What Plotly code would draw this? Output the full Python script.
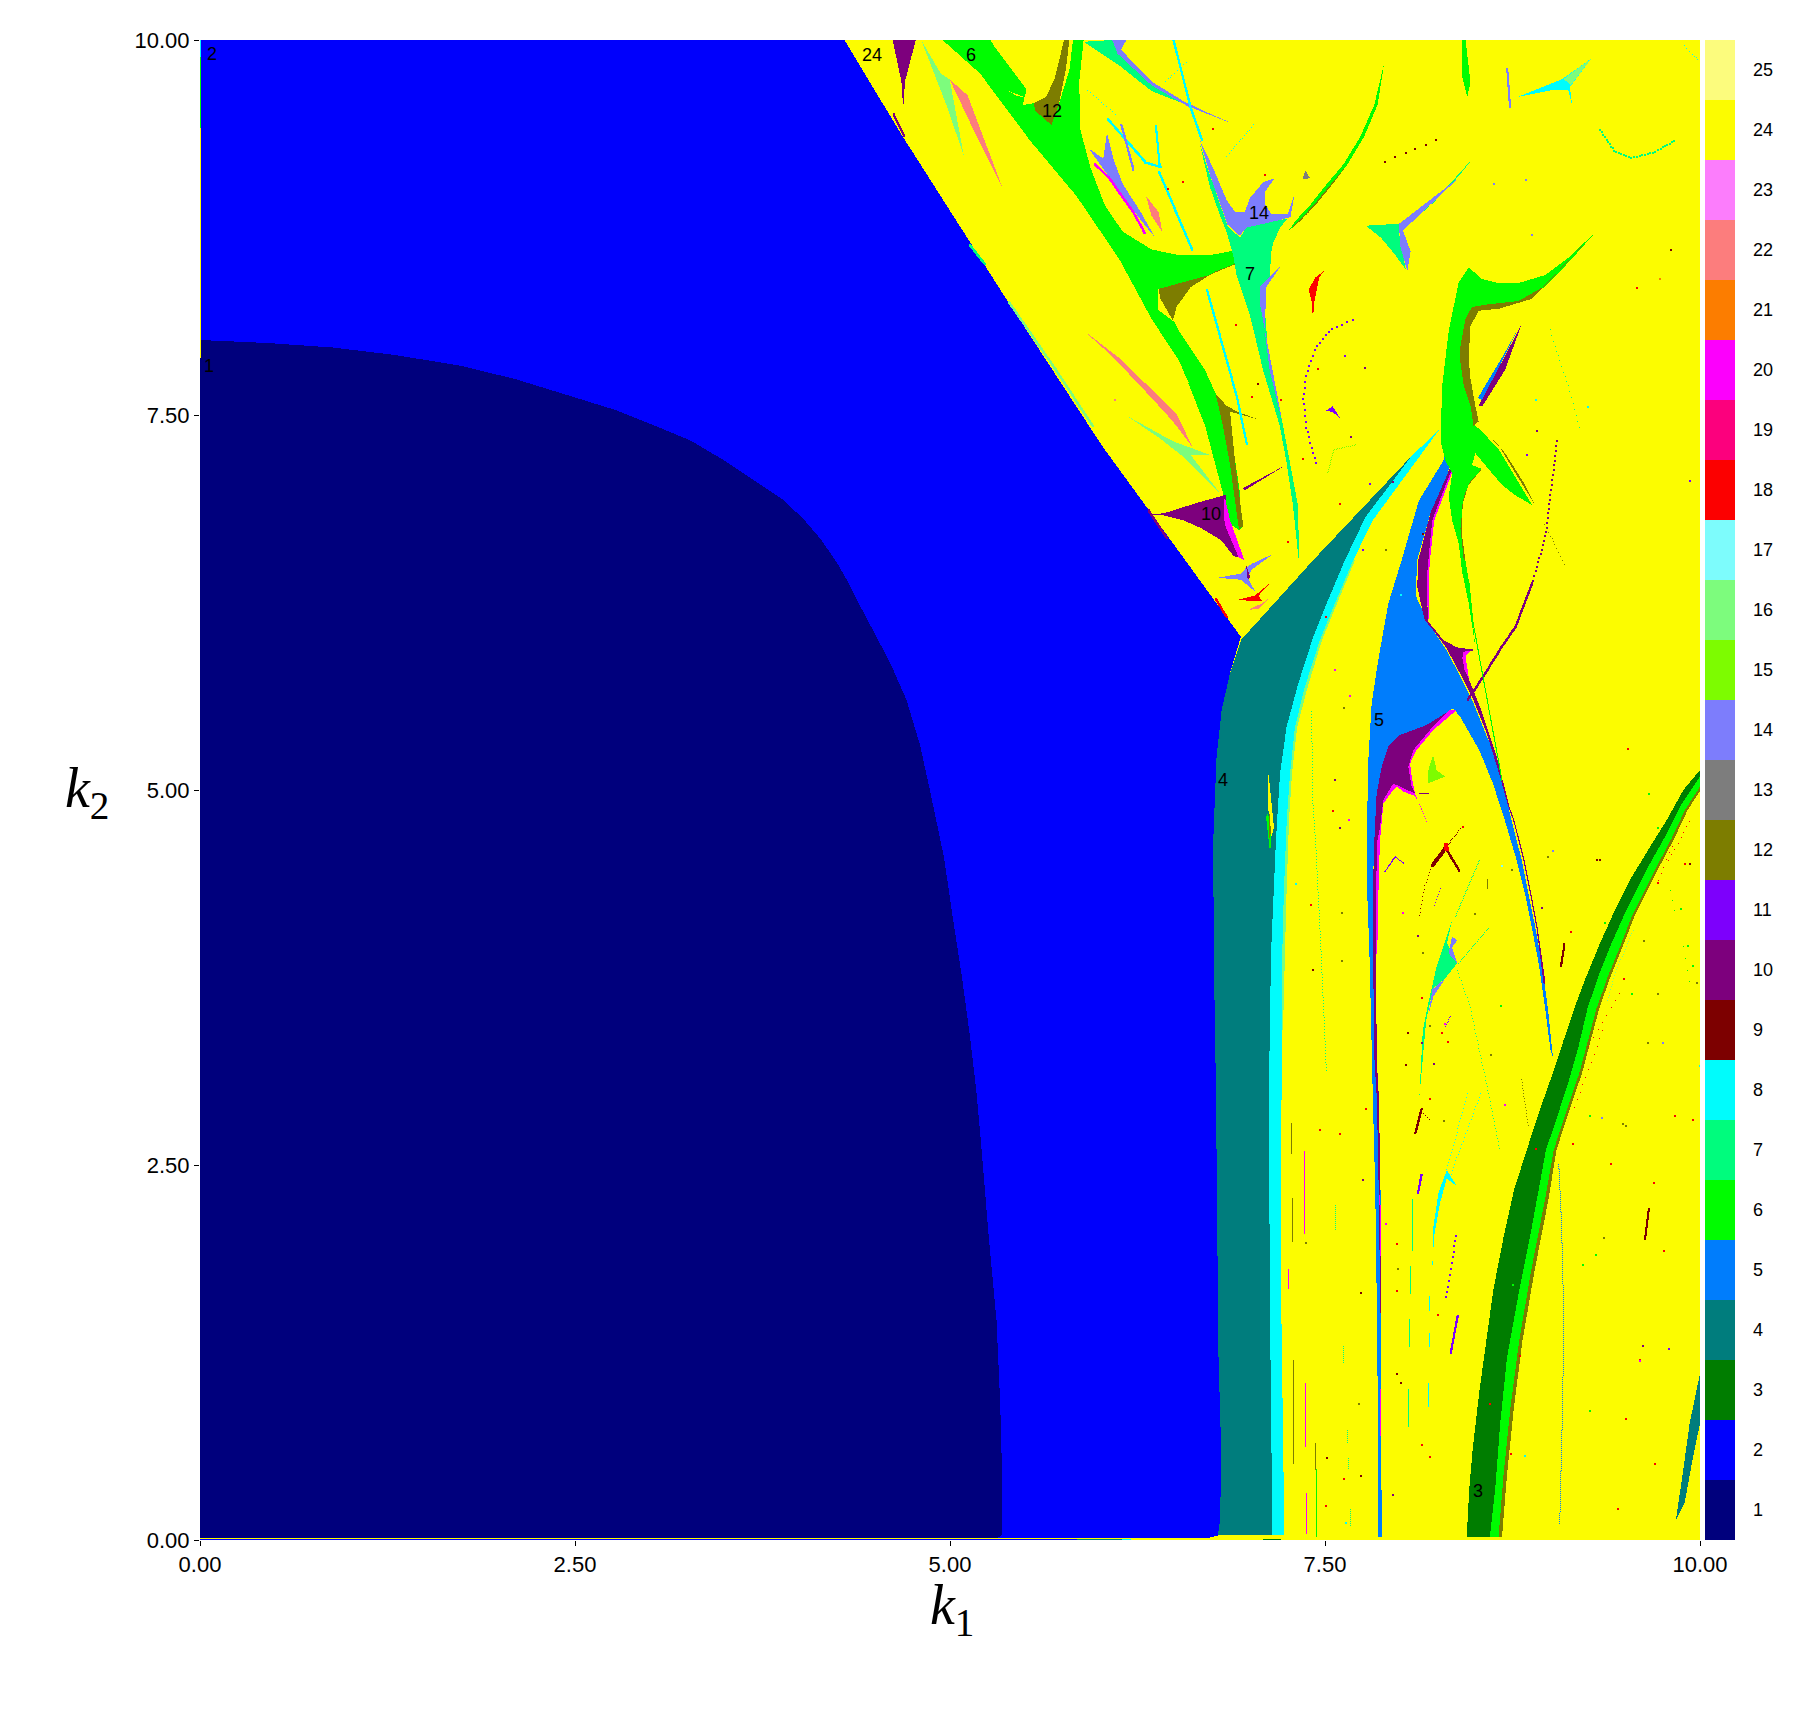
import numpy as np
import plotly.graph_objects as go

# ---- period legend -------------------------------------------------------
periods = list(range(1, 26))
period_colors = ["#00007D", "#0000FC", "#007D00", "#007D7D", "#007DFC", "#00FC00", "#00FC7D", "#00FCFC",
                 "#7D0000", "#7D007D", "#7D00FC", "#7D7D00", "#7D7D7D", "#7D7DFC", "#7DFC00", "#7DFC7D",
                 "#7DFCFC", "#FC0000", "#FC007D", "#FC00FC", "#FC7D00", "#FC7D7D", "#FC7DFC", "#FCFC00", "#FCFC7D"]
axis_ticks = [0, 2.5, 5, 7.5, 10]

# ---- region outlines, as (k1, k2) -----------------------------------------
blue_main = [(0,10),(4.296,10),(4.676,9.37),(5.39,8.25),(6.01,7.30),(6.94,6.02),(6.933,6.0),(6.866,5.777),(6.811,5.533),(6.777,5.222),
             (6.755,4.667),(6.756,4.355),(6.763,3.62),(6.774,2.93),(6.779,2.33),(6.79,1.22),(6.809,.556),(6.8,.133),(6.786,.03),(6.72,.0134),(0,.0134)]
navy_main = [(0,8.0),(.45,7.98),(.886,7.95),(1.3,7.9),(1.73,7.83),(2.1,7.74),(2.49,7.62),(2.78,7.53),(3.03,7.43),(3.27,7.33),(3.49,7.2),(3.7,7.06),(3.88,6.94),(4.02,6.81),(4.14,6.67),(4.25,6.51),(4.33,6.37),
             (4.41,6.21),(4.6,5.85),(4.71,5.6),(4.8,5.3),(4.87,4.98),(4.96,4.55),(5.02,4.14),(5.08,3.75),(5.13,3.38),(5.175,3.0),(5.21,2.61),(5.26,2.0),(5.31,1.465),(5.335,.9),
             (5.35,.32),(5.347,.04),(5.32,.0134),(0,.0134)]
teal_main = [(6.94,6.0),(7.422,6.533),(8.08,7.23),(7.77,6.82),(7.633,6.533),(7.511,6.244),(7.422,6.022),(7.322,5.711),(7.244,5.422),(7.2,5.111),(7.173,4.667),(7.14,3.911),
             (7.125,2.933),(7.134,1.444),(7.146,.333),(7.146,.033),(6.786,.03),(6.8,.133),(6.809,.556),(6.79,1.22),(6.779,2.33),
             (6.774,2.93),(6.763,3.62),(6.756,4.355),(6.755,4.667),(6.777,5.222),(6.811,5.533),(6.866,5.777)]
cyan_main = [(8.26,7.4),(7.82,6.8),(7.689,6.533),(7.566,6.244),(7.466,6.0),(7.366,5.689),(7.3,5.422),(7.267,5.111),(7.245,4.8),(7.225,4.3),(7.215,3.911),(7.21,2.93),
             (7.21,1.44),(7.229,.03),(7.146,.033),(7.146,.333),(7.134,1.444),(7.125,2.933),(7.14,3.911),(7.173,4.667),(7.2,5.111),(7.244,5.422),
             (7.322,5.711),(7.422,6.022),(7.511,6.244),(7.633,6.533),(7.77,6.82),(8.08,7.23)]
mint_fringe = [(7.689,6.533),(7.566,6.244),(7.466,6.0),(7.366,5.689),(7.3,5.422),(7.267,5.111),(7.245,4.8),(7.225,4.3),(7.215,3.911),(7.21,3.4),(7.22,3.4),(7.233,3.911),
               (7.243,4.3),(7.26,4.8),(7.28,5.111),(7.315,5.422),(7.385,5.689),(7.48,6.0),(7.58,6.244),(7.7,6.533)]
blue5_main = [(7.856,.02),(7.853,.778),(7.846,1.511),(7.835,2.333),(7.819,2.933),(7.807,3.467),(7.796,3.911),(7.78,4.355),(7.778,4.667),(7.789,5.2),(7.811,5.578),(7.855,5.867),
              (7.922,6.244),(8.011,6.533),(8.126,6.93),(8.292,7.2),(8.36,7.45),(8.4,7.38),(8.314,7.1),(8.204,6.85),(8.115,6.534),(8.104,6.296),(8.15,6.2),(8.211,6.08),(8.311,5.93),
              (8.4,5.76),(8.489,5.58),(8.578,5.36),(8.619,5.267),(8.686,5.045),(8.743,4.8),(8.811,4.534),(8.856,4.311),(8.901,4.089),(8.946,3.845),(8.987,3.534),(9.019,3.222),
              (9.003,3.267),(8.969,3.534),(8.924,3.845),(8.878,4.089),(8.833,4.311),(8.777,4.534),(8.698,4.8),(8.619,5.045),(8.528,5.267),(8.4,5.49),(8.355,5.544),(8.177,5.433),
              (8.0,5.367),(7.922,5.289),(7.878,5.155),(7.844,4.977),(7.829,4.667),(7.819,4.355),(7.819,3.911),(7.85,3.0),(7.87,2.333),(7.876,1.511),(7.872,.778),(7.88,.02)]
purple_blob = [(8.355,5.544),(8.177,5.433),(8.0,5.367),(7.922,5.289),(7.878,5.155),(7.844,4.977),(7.829,4.667),(7.82,4.355),(7.82,3.911),(7.83,3.2),(7.846,2.933),(7.858,2.333),
               (7.869,1.511),(7.876,1.511),(7.869,2.333),(7.86,2.933),(7.845,3.2),(7.84,3.911),(7.84,4.355),(7.85,4.667),(7.867,4.755),(7.889,4.933),(7.955,5.044),(8.022,5.011),
               (8.1,4.977),(8.078,5.022),(8.055,5.155),(8.089,5.267),(8.2,5.4),(8.33,5.53)]
magenta_blob = [(8.378,5.533),(8.222,5.4),(8.111,5.267),(8.067,5.177),(8.078,5.089),(8.1,4.977),(8.144,4.867),(8.2,4.733),(8.135,4.9),(8.1,4.96),(8.022,4.99),(7.978,5.022),(7.955,5.0),
                (7.889,4.91),(7.87,4.7),(7.86,4.5),(7.85,4.0),(7.848,3.9),(7.84,3.911),(7.84,4.355),(7.85,4.667),(7.867,4.755),(7.889,4.933),(7.955,5.044),(8.022,5.011),(8.1,4.977),
                (8.078,5.022),(8.055,5.155),(8.089,5.267),(8.2,5.4),(8.33,5.53)]
purple_band = [(8.392,7.298),(8.314,7.1),(8.204,6.85),(8.122,6.533),(8.115,6.355),(8.144,6.222),(8.165,6.13),(8.211,6.08),(8.311,5.944),(8.4,5.778),(8.489,5.6),(8.578,5.378),(8.667,5.089),
               (8.722,4.888),(8.754,4.8),(8.822,4.534),(8.867,4.311),(8.912,4.067),(8.957,3.71),(8.97,3.71),(8.92,4.067),(8.875,4.311),(8.83,4.534),(8.762,4.8),(8.73,4.888),(8.644,5.222),
               (8.533,5.555),(8.444,5.778),(8.422,5.867),(8.422,5.922),(8.511,5.933),(8.378,5.951),(8.289,6.0),(8.19,6.12),(8.182,6.244),(8.178,6.4),(8.189,6.533),(8.215,6.798),(8.314,7.06),(8.403,7.272)]
magenta_band = [(8.403,7.272),(8.314,7.06),(8.215,6.798),(8.189,6.533),(8.178,6.4),(8.182,6.244),(8.19,6.14),(8.195,6.244),(8.19,6.4),(8.2,6.533),(8.228,6.798),(8.337,7.087)]
magenta_kink = [(8.422,5.922),(8.47,5.93),(8.436,5.895),(8.46,5.74),(8.43,5.8),(8.416,5.88)]
green_x = [(8.27,7.325),(8.281,7.694),(8.325,8.063),(8.39,8.38),(8.458,8.485),(8.546,8.406),(8.657,8.38),(8.79,8.38),(8.966,8.432),(9.143,8.564),(9.33,8.749),
           (9.143,8.538),(8.966,8.353),(8.79,8.248),(8.657,8.221),(8.524,8.221),(8.469,8.169),(8.414,7.984),(8.409,7.826),(8.436,7.694),(8.48,7.562),(8.502,7.43),
           (8.546,7.39),(8.657,7.272),(8.768,7.088),(8.88,6.9),(8.76,6.97),(8.68,7.035),(8.59,7.14),(8.502,7.246),(8.48,7.166),(8.546,7.14),(8.458,7.035),
           (8.414,6.9),(8.414,6.69),(8.436,6.534),(8.458,6.4),(8.502,5.954),(8.458,6.244),(8.414,6.455),(8.392,6.64),(8.348,6.797),(8.325,6.956),(8.348,7.114),(8.303,7.193)]
olive_x_top = [(9.3,8.72),(8.878,8.274),(8.657,8.208),(8.524,8.195),(8.469,8.09),(8.458,7.878),(8.469,7.747),(8.502,7.562),(8.524,7.457),(8.49,7.43),(8.47,7.562),
               (8.425,7.694),(8.403,7.85),(8.403,7.958),(8.436,8.142),(8.48,8.22),(8.568,8.235),(8.79,8.26),(8.966,8.36)]
olive_x_right = [(8.568,7.39),(8.7,7.246),(8.834,7.035),(8.966,6.77),(8.9,6.9),(8.768,7.114),(8.657,7.3)]
olive_x_low = [(8.546,7.14),(8.469,7.06),(8.425,6.956),(8.403,6.745),(8.425,6.534),(8.436,6.534),(8.414,6.69),(8.414,6.9),(8.458,7.035)]
streak_blue = [(8.52,7.615),(8.7,7.918),(8.79,8.08),(8.66,7.82),(8.55,7.6)]
streak_purple = [(8.81,8.103),(8.525,7.562),(8.55,7.56),(8.7,7.8)]
green_top = [(4.95,10),(5.27,10),(5.3,9.95),(5.51,9.672),(5.486,9.566),(5.557,9.579),(5.569,9.527),(5.676,9.434),(5.724,9.566),(5.796,9.8),(5.82,10),(5.891,10),
             (5.862,9.724),(5.867,9.408),(5.938,9.144),(6.034,8.894),(6.152,8.722),(6.343,8.604),(6.533,8.564),(6.724,8.564),(6.938,8.604),(7.03,8.551),(6.914,8.511),
             (6.724,8.432),(6.557,8.38),(6.39,8.34),(6.39,8.2),(6.5,8.116),(6.533,8.05),(6.7,7.8),(6.784,7.615),(6.867,7.43),(6.93,7.0),(6.945,6.75),(6.926,6.732),
             (6.871,6.771),(6.819,6.982),(6.7,7.43),(6.533,7.852),(6.343,8.142),(6.129,8.538),(5.843,8.96),(5.534,9.329),(5.2,9.777)]
olive_crown = [(5.796,10),(5.772,9.803),(5.724,9.566),(5.676,9.434),(5.569,9.527),(5.557,9.579),(5.64,9.619),(5.7,9.75),(5.76,10)]
olive_wing = [(6.39,8.34),(6.724,8.432),(7.01,8.55),(6.771,8.458),(6.605,8.353),(6.51,8.221),(6.486,8.129),(6.403,8.274)]
olive_tail = [(6.771,7.641),(6.843,7.562),(6.914,7.523),(7.057,7.47),(6.867,7.523),(6.903,7.167),(6.955,6.758),(6.926,6.74),(6.867,7.167),(6.819,7.43)]
yellow_hole_a = [(5.39,9.66),(5.52,9.61),(5.44,9.63)]
yellow_hole_b = [(6.53,7.84),(6.6,7.7),(6.55,7.76)]
purple_triangle = [(6.343,6.837),(6.427,6.845),(6.652,6.916),(6.843,6.969),(6.831,6.89),(6.831,6.77),(6.938,6.547),(6.891,6.56),(6.807,6.666),(6.676,6.745),(6.557,6.798),(6.427,6.83)]
magenta_triangle = [(6.831,6.956),(6.867,6.798),(6.962,6.534),(6.925,6.55),(6.831,6.77),(6.826,6.88)]
purple_top = [(4.617,10),(4.772,10),(4.7,9.724),(4.688,9.54),(4.676,9.724)]
mint_top = [(4.808,10),(4.938,9.777),(4.998,9.737),(5.093,9.223),(4.986,9.54)]
salmon_top = [(4.998,9.737),(5.117,9.632),(5.355,9.0),(5.153,9.408)]
salmon_mid = [(5.891,8.063),(6.129,7.879),(6.51,7.51),(6.617,7.285),(6.486,7.457),(6.343,7.615),(6.081,7.892)]
mint_mid = [(6.176,7.496),(6.486,7.325),(6.736,7.233),(6.605,7.233),(6.807,6.969),(6.557,7.22),(6.39,7.351)]
spring_cross = [(6.667,9.3),(6.733,9.02),(6.8,8.83),(6.844,8.72),(6.888,8.564),(6.91,8.432),(6.999,8.168),(7.087,7.8),(7.198,7.43),(7.242,7.193),(7.286,6.9),(7.33,6.48),
                (7.319,6.9),(7.22,7.43),(7.12,7.93),(7.098,8.22),(7.065,8.327),(7.131,8.419),(7.142,8.59),(7.153,8.643),(7.2,8.749),(7.25,8.81),(7.2,8.8),(6.976,8.749),(6.932,8.683),(6.85,8.76),(6.733,9.1)]
peri_cross = [(6.667,9.33),(6.755,9.144),(6.844,8.933),(6.9,8.854),(6.965,8.854),(7.0,8.946),(7.087,9.052),(7.164,9.078),(7.098,8.986),(7.098,8.907),(7.142,8.84),(7.253,8.84),
              (7.297,8.973),(7.27,8.82),(7.2,8.8),(6.976,8.749),(6.932,8.695),(6.85,8.77),(6.733,9.1)]
peri_under = [(7.209,8.5),(7.109,8.353),(7.098,8.063),(7.131,7.8),(7.22,7.43),(7.12,7.958),(7.065,8.248),(7.065,8.353),(7.142,8.432)]
spring_crest = [(5.891,9.988),(6.081,10),(6.117,9.909),(6.343,9.698),(6.581,9.566),(6.343,9.66),(6.129,9.83)]
peri_crest = [(6.081,10),(6.176,10),(6.14,9.935),(6.343,9.724),(6.557,9.592),(6.724,9.513),(6.89,9.44),(6.581,9.56),(6.343,9.698),(6.117,9.909)]
peri_cluster = [(6.046,9.381),(6.093,9.197),(6.152,9.039),(6.271,8.854),(6.367,8.683),(6.271,8.8),(6.152,8.96),(6.057,9.091),(5.926,9.276),(6.022,9.21)]
salmon_cluster = [(6.307,8.96),(6.39,8.854),(6.415,8.722),(6.343,8.828)]
peri_star = [(6.784,6.415),(6.938,6.442),(6.974,6.481),(7.01,6.507),(7.153,6.573),(7.01,6.468),(6.986,6.415),(7.034,6.323),(6.938,6.402)]
purple_star = [(6.974,6.5),(7.0,6.42),(6.985,6.4)]
red_star = [(6.927,6.27),(7.034,6.297),(7.129,6.376),(7.058,6.297),(7.081,6.257),(7.0,6.26)]
salmon_star = [(6.99,6.2),(7.09,6.25),(7.13,6.28),(7.06,6.21)]
purple_dash = [(6.955,7.014),(7.248,7.172),(6.96,6.995)]
red_flare = [(7.498,8.464),(7.462,8.419),(7.427,8.248),(7.42,8.13),(7.412,8.248),(7.391,8.34),(7.438,8.419)]
spring_kite = [(7.773,8.762),(7.994,8.775),(8.215,8.907),(8.39,9.091),(8.491,9.218),(8.215,8.91),(7.994,8.709),(8.038,8.472),(7.96,8.577),(7.872,8.683)]
peri_kite = [(7.994,8.775),(8.39,9.08),(8.02,8.73),(8.071,8.59),(8.049,8.459),(8.0,8.63)]
green_arc = [(7.894,9.843),(7.85,9.566),(7.76,9.355),(7.65,9.17),(7.54,9.026),(7.42,8.88),(7.33,8.79),(7.253,8.723),(7.308,8.8),(7.396,8.894),(7.512,9.04),(7.622,9.17),(7.735,9.355),(7.828,9.566)]
olive_arc = [(7.65,9.17),(7.54,9.026),(7.42,8.88),(7.33,8.79),(7.27,8.74),(7.33,8.8),(7.42,8.895),(7.54,9.04)]
green_spike = [(8.415,10),(8.437,10),(8.47,9.72),(8.448,9.62),(8.415,9.75)]
cyan_star = [(8.78,9.619),(9.077,9.737),(9.276,9.877),(9.132,9.685),(9.148,9.566),(9.12,9.67),(9.03,9.67)]
mint_tip = [(9.09,9.74),(9.276,9.877),(9.14,9.7)]
gray_dot = [(7.35,9.07),(7.4,9.08),(7.37,9.13)]
lime_star = [(8.22,5.233),(8.244,5.133),(8.301,5.089),(8.186,5.044),(8.186,5.122)]
spring_low = [(8.347,4.133),(8.313,3.978),(8.381,3.844),(8.301,3.744),(8.221,3.678),(8.175,3.467),(8.129,2.956),(8.152,3.4),(8.198,3.622),(8.244,3.822)]
peri_low = [(8.347,4.022),(8.381,3.998),(8.347,3.95),(8.381,3.844),(8.324,3.911)]
peri_low_b = [(8.301,3.744),(8.221,3.62),(8.19,3.5),(8.215,3.67)]
cyan_low = [(8.312,2.467),(8.381,2.356),(8.312,2.411),(8.266,2.244),(8.227,2.022),(8.216,1.822),(8.22,2.067),(8.255,2.311)]
purple_small_star = [(7.51,7.53),(7.55,7.56),(7.6,7.48),(7.55,7.52)]
band_left = [(8.445,.02),(8.461,.333),(8.484,.6),(8.53,1.0),(8.576,1.333),(8.622,1.667),(8.691,2.022),(8.76,2.333),(8.845,2.6),(8.924,2.845),(9.014,3.1),(9.09,3.33),(9.162,3.544),
             (9.232,3.733),(9.333,3.978),(9.433,4.2),(9.533,4.4),(9.667,4.622),(9.778,4.8),(9.889,5.0),(10,5.133)]
band_mid = [(8.599,.02),(8.634,.333),(8.668,.778),(8.714,1.222),(8.795,1.667),(8.875,2.067),(8.973,2.6),(9.048,2.822),(9.127,3.067),(9.19,3.289),(9.25,3.544),(9.321,3.755),(9.4,3.955),
            (9.489,4.155),(9.578,4.333),(9.667,4.511),(9.767,4.689),(9.867,4.889),(10,5.089)]
band_right = [(8.657,.02),(8.691,.444),(8.737,.889),(8.795,1.333),(8.875,1.8),(8.966,2.267),(9.025,2.6),(9.104,2.845),(9.195,3.111),(9.31,3.544),(9.385,3.755),(9.467,3.955),(9.544,4.155),
              (9.622,4.311),(9.711,4.489),(9.811,4.678),(9.9,4.867),(10,5.022)]
band_edge = [(8.68,.02),(8.714,.444),(8.76,.889),(8.817,1.333),(8.898,1.8),(8.989,2.267),(9.043,2.6),(9.122,2.845),(9.213,3.111),(9.328,3.544),(9.403,3.755),(9.484,3.955),(9.562,4.155),
             (9.64,4.311),(9.729,4.489),(9.829,4.678),(9.918,4.867),(10,4.995)]
teal_corner = [(9.839,.133),(9.885,.444),(9.931,.778),(10,1.111),(10,.778),(9.954,.556),(9.897,.244)]
streak_yellow = [(7.118,5.15),(7.135,5.0),(7.16,4.75),(7.135,4.66),(7.118,4.95)]
streak_green = [(7.107,4.822),(7.135,4.567),(7.14,4.7),(7.12,4.85)]
streak_olive = [(7.125,4.9),(7.14,4.72),(7.13,4.68)]

# ---- thin curves --------------------------------------------------------
line_fringe_top = [(4.62,9.5),(4.69,9.36)]
line_fringe_mint = [(5.39,8.25),(5.7,7.8),(5.95,7.42)]
line_fringe_teal = [(5.13,8.63),(5.23,8.5)]
line_fringe_purple = [(6.32,6.86),(6.44,6.68)]
line_fringe_red = [(6.77,6.27),(6.84,6.15)]
line_cyan_top = [(6.486,10),(6.6,9.55),(6.676,9.33)]
line_cyan_mid = [(6.711,8.327),(6.8,8.01),(6.91,7.615),(6.976,7.3)]
line_cyan_a = [(6.05,9.47),(6.3,9.18),(6.4,9.15)]
line_cyan_b = [(6.37,9.42),(6.395,9.15)]
line_cyan_c = [(6.39,9.12),(6.61,8.6)]
line_cyan_d = [(5.92,9.66),(6.11,9.5)]
line_cyan_e = [(6.438,9.724),(6.581,9.856)]
line_cyan_f = [(6.843,9.223),(7.034,9.447)]
line_peri_a = [(6.14,9.43),(6.22,9.13)]
line_magenta_a = [(5.962,9.17),(6.057,9.078),(6.224,8.84),(6.295,8.709)]
line_arc_top = [(9.331,9.395),(9.43,9.25),(9.54,9.21),(9.696,9.25),(9.84,9.329)]
line_corner_top = [(9.895,9.96),(9.984,9.87)]
line_peri_b = [(8.712,9.8),(8.73,9.55)]
line_purple_arc = [(7.684,8.129),(7.551,8.076),(7.441,7.958),(7.374,7.773),(7.352,7.615),(7.374,7.404),(7.441,7.167)]
line_right_arc_up = [(9.044,7.325),(8.989,6.876),(8.967,6.692),(8.878,6.376)]
line_right_arc_low = [(8.878,6.376),(8.768,6.086),(8.668,5.94),(8.553,5.755),(8.45,5.6)]
line_green_diag = [(8.458,6.4),(8.484,6.133),(8.553,5.755),(8.68,5.066)]
line_olive_tail = [(8.966,6.77),(9.1,6.5)]
line_mint_right = [(9.0,8.07),(9.15,7.6),(9.2,7.4)]
line_red_dots = [(7.894,9.184),(8.27,9.342)]
line_darkred_thin = [(8.404,4.744),(8.301,4.611)]
line_darkred_bold = [(8.301,4.611),(8.209,4.489)]
line_darkred_dots = [(8.209,4.489),(8.163,4.355),(8.129,4.156)]
line_darkred_b = [(8.301,4.611),(8.393,4.456)]
line_darkred_c = [(9.093,3.967),(9.07,3.822)]
line_darkred_d = [(9.655,2.2),(9.63,2.0)]
line_darkred_e = [(8.14,2.87),(8.1,2.71)]
line_darkred_f = [(8.14,2.86),(8.2,2.8)]
line_red_center = [(8.295,4.62),(8.3,4.6)]
line_purple_a = [(7.899,4.455),(7.968,4.555),(8.025,4.511)]
line_purple_b = [(8.14,2.433),(8.117,2.311)]
line_purple_c = [(8.37,2.02),(8.3,1.58)]
line_purple_d = [(8.381,1.489),(8.335,1.244)]
line_purple_e = [(8.269,4.344),(8.223,4.222)]
line_purple_f = [(8.336,3.489),(8.302,3.423)]
line_purple_g = [(8.133,4.978),(8.19,4.978)]
line_tail_a = [(8.37,4.156),(8.53,4.533)]
line_tail_b = [(8.393,3.844),(8.588,4.078)]
line_tail_c = [(8.381,3.8),(8.462,3.578),(8.577,3.044),(8.664,2.6)]
line_tail_d = [(8.312,2.467),(8.45,2.978)]
line_tail_e = [(8.34,2.44),(8.54,2.98)]
line_right_blue = [(9.059,2.5),(9.077,2.11),(9.093,1.444),(9.081,.778),(9.065,.111)]
line_dotted_green = [(7.41,5.522),(7.42,4.9),(7.44,4.6),(7.47,4.0),(7.509,3.133)]
line_red_chain_a = [(9.929,4.789),(9.782,4.511)]
line_red_chain_b = [(9.816,4.622),(9.714,4.378)]
line_red_chain_c = [(9.353,3.4),(9.15,2.845)]
line_red_chain_d = [(9.466,3.645),(9.24,3.267)]
line_mint_chain = [(9.555,4.066),(9.433,3.777),(9.38,3.58)]
line_green_chain_a = [(9.8,4.333),(9.844,4.155)]
line_green_chain_b = [(9.889,3.955),(9.944,3.666)]
line_olive_chain = [(8.811,3.067),(8.856,2.755)]
line_lime_arc = [(7.518,7.114),(7.56,7.27),(7.706,7.3)]
line_olive_a = [(7.275,2.778),(7.275,2.578)]
line_magenta_b = [(7.362,2.589),(7.362,2.044)]
line_olive_b = [(7.281,2.278),(7.281,1.989)]
line_olive_c = [(7.288,1.2),(7.288,.511)]
line_magenta_c = [(7.371,1.044),(7.371,.622)]
line_olive_d = [(7.435,.644),(7.435,.467)]
line_green_a = [(7.444,.467),(7.444,.022)]
line_magenta_d = [(7.376,.311),(7.376,.044)]
line_magenta_e = [(7.256,1.8),(7.256,1.678)]
line_magenta_f = [(7.866,2.3),(7.87,1.9)]
line_magenta_g = [(7.87,1.0),(7.873,.7)]
line_green_b = [(8.083,2.267),(8.083,1.933)]
line_green_c = [(8.069,1.822),(8.069,1.644)]
line_green_d = [(8.06,1.467),(8.06,1.289)]
line_green_e = [(8.055,1.0),(8.055,.756)]
line_cyan_g = [(8.193,1.044),(8.193,.889)]
line_cyan_h = [(8.2,1.622),(8.2,1.533)]
line_cyan_i = [(8.197,1.378),(8.197,1.289)]
line_green_f = [(7.568,2.233),(7.568,2.067)]
line_green_g = [(7.623,1.289),(7.623,1.178)]
line_green_h = [(7.651,.733),(7.651,.644)]
line_green_i = [(7.669,.2),(7.669,.089)]
line_green_j = [(7.656,.544),(7.656,.478)]
line_olive_short = [(8.585,4.4),(8.585,4.345)]
line_edge_cyan = [(.003,10),(.003,9.88)]
line_edge_green = [(.003,9.88),(.003,9.41)]
line_edge_yellow = [(.003,9.41),(.003,7.88)]
line_floor_yellow = [(0,.01),(10,.01)]
line_floor_blue = [(0,.003),(5.85,.003)]
line_floor_teal = [(5.85,.003),(6.15,.003)]
line_floor_cyan = [(6.15,.003),(6.2,.003)]
line_floor_green = [(7.09,.003),(7.2,.003)]

# isolated specks
speck_k1 = [7.566,7.663,7.623,7.566,7.55,7.654,7.6,7.405,7.302,7.612,8.014,8.117,7.417,7.612,8.048,8.037,9.311,9.896,9.517,8.943,
            7.6,7.75,7.9,7.98,8.25,8.6,8.75,9.4,9.6,9.7,9.45,9.95,7.62,7.72,7.95,8.2,8.7,8.9,9.3,9.5,
            6.9,7.05,7.2,7.35,7.6,7.75,7.95,8.15,6.1,6.45,6.55,6.75,7.1,7.25,7.5,7.9,8.0,8.9,9.25,9.8,
            8.494,8.151,8.144,8.296,8.28,8.314,8.223,8.144,8.2,8.675,9.33,8.98,9.014,9.929,9.714,9.658,9.868,9.714,9.647,9.917,
            9.951,9.974,9.341,9.5,9.827,9.714,9.545,8.671,8.603,8.743,8.415,9.138,9.624,9.488,9.364,9.748,9.997,9.262,9.15,8.291,
            8.2,7.773,7.463,7.979,7.371,7.738,7.979,7.979,8.002,8.14,7.738,7.509,7.504,7.635,8.829,8.737,8.794,9.219,9.265,9.357,
            9.69,9.758,9.62,9.598,9.793,9.483,7.01,7.761,7.452,7.673,8.911,8.845,9.574,9.729,9.928,8.878,8.624,8.834,7.794,7.629]
speck_k2 = [5.8,5.622,5.544,5.066,4.855,4.8,4.744,4.233,4.367,4.178,4.178,4.022,3.8,3.855,3.378,3.166,4.533,4.5,5.267,4.211,
            2.7,2.4,2.1,1.8,1.5,.9,1.7,2.5,1.2,.5,.2,2.8,.4,.9,.3,.55,2.9,2.6,1.9,.8,
            8.1,7.7,7.6,7.2,6.9,6.6,7.05,6.7,7.6,9.0,9.05,9.4,9.1,6.65,6.15,6.6,6.3,7.6,7.55,8.6,
            4.167,3.911,3.611,3.434,3.378,3.318,3.167,3.311,3.42,4.489,4.533,4.551,4.589,4.5,4.745,4.967,4.2,4.378,3.311,3.956,
            3.822,3.711,2.811,2.755,2.823,3.634,3.634,3.556,3.233,4.462,4.751,4.049,3.989,3.734,4.111,3.311,3.156,2.823,2.634,2.789,
            2.934,2.867,2.733,1.967,1.978,1.644,1.656,1.1,1.044,.633,.422,.544,.222,.111,.556,.567,1.222,1.833,.856,2.011,
            2.378,1.922,1.289,1.189,1.267,2.767,7.615,7.813,7.8,7.351,7.39,7.233,8.34,8.406,7.06,8.696,9.039,9.065,7.035,7.89]
speck_val = [20,20,12,10,18,20,10,18,8,12,20,10,9,12,9,9,9,18,18,10,
             18,10,20,12,18,18,6,18,18,18,18,18,18,12,10,18,20,18,6,18,
             18,9,18,18,18,11,10,9,22,18,18,18,18,18,18,12,8,8,8,9,
             12,12,18,20,18,18,10,10,12,17,9,12,14,9,6,6,6,18,12,6,
             6,12,14,12,18,12,6,6,12,12,18,18,12,18,6,14,8,6,18,12,
             18,18,18,18,12,9,18,9,9,18,9,9,18,8,8,18,18,6,6,12,
             18,18,10,20,11,12,18,10,18,10,10,11,18,21,11,14,14,14,11,11]

# ---- raster of the k1-k2 plane -------------------------------------------
n_cells = 1500
cell = 10 / n_cells
centers = (np.arange(n_cells) + 0.5) * cell
grid = np.full((n_cells, n_cells), 24, dtype=np.int16)


def fill(outline, value):
    xs = np.array([p[0] for p in outline], float)
    ys = np.array([p[1] for p in outline], float)
    xe, ye = np.roll(xs, -1), np.roll(ys, -1)
    for j, y in enumerate(centers):
        hit = ((ys <= y) & (ye > y)) | ((ye <= y) & (ys > y))
        if not hit.any():
            continue
        cross = np.sort(xs[hit] + (y - ys[hit]) * (xe[hit] - xs[hit]) / (ye[hit] - ys[hit]))
        for a, b in zip(cross[::2], cross[1::2]):
            grid[j, np.searchsorted(centers, a):np.searchsorted(centers, b)] = value


def stroke(curve, value, every=1, width=1):
    seen = {}
    for (x0, y0), (x1, y1) in zip(curve[:-1], curve[1:]):
        steps = max(2, int(max(abs(x1 - x0), abs(y1 - y0)) / (cell / 2)))
        for t in np.linspace(0, 1, steps):
            seen[(int(min(n_cells - 1, (y0 + (y1 - y0) * t) / cell)), int(min(n_cells - 1, (x0 + (x1 - x0) * t) / cell)))] = 1
    for m, (i, j) in enumerate(seen):
        if m % every == 0:
            grid[i:i + width, j:j + width] = value


green3_band = band_left + band_mid[::-1]
green6_band = band_mid + band_right[::-1]
olive6_edge = band_right + band_edge[::-1]

for outline, value in [
    (blue_main, 2), (navy_main, 1), (teal_main, 4), (cyan_main, 8), (mint_fringe, 16), (blue5_main, 5), (purple_band, 10), (magenta_band, 20),
    (magenta_kink, 20), (purple_blob, 10), (magenta_blob, 20), (green_x, 6), (olive_x_top, 12), (olive_x_right, 12),
    (olive_x_low, 12), (streak_blue, 5), (streak_purple, 10), (green_top, 6), (olive_crown, 12), (olive_wing, 12),
    (olive_tail, 12), (yellow_hole_a, 24), (yellow_hole_b, 24), (purple_triangle, 10), (magenta_triangle, 20),
    (purple_top, 10), (mint_top, 16), (salmon_top, 22), (salmon_mid, 22), (mint_mid, 16), (spring_cross, 7), (peri_cross, 14),
    (peri_under, 14), (spring_crest, 7), (peri_crest, 14), (peri_cluster, 14), (salmon_cluster, 22), (peri_star, 14),
    (purple_star, 10), (red_star, 18), (salmon_star, 22), (purple_dash, 10), (red_flare, 18), (spring_kite, 7), (peri_kite, 14), (green_arc, 6),
    (olive_arc, 12), (green_spike, 6), (cyan_star, 8), (mint_tip, 16), (gray_dot, 13), (lime_star, 15), (spring_low, 7),
    (peri_low, 14), (peri_low_b, 14), (cyan_low, 8), (purple_small_star, 11), (green3_band, 3), (green6_band, 6), (olive6_edge, 12), (teal_corner, 4),
    (streak_yellow, 24), (streak_green, 6), (streak_olive, 12),
]:
    fill(outline, value)

for curve, value, every, width in [
    (line_fringe_top, 10, 1, 2), (line_fringe_mint, 16, 1, 2), (line_fringe_teal, 7, 1, 2), (line_fringe_purple, 10, 1, 2), (line_fringe_red, 18, 1, 2),
    (line_cyan_top, 8, 1, 2), (line_cyan_mid, 8, 1, 2), (line_cyan_a, 8, 1, 2), (line_cyan_b, 8, 1, 2), (line_cyan_c, 8, 1, 2), (line_cyan_d, 8, 4, 1),
    (line_cyan_e, 8, 3, 1), (line_cyan_f, 8, 3, 1), (line_peri_a, 14, 1, 2), (line_magenta_a, 20, 1, 2), (line_arc_top, 7, 3, 2), (line_corner_top, 8, 3, 1),
    (line_peri_b, 14, 1, 2), (line_purple_arc, 11, 6, 2), (line_right_arc_up, 10, 5, 2), (line_right_arc_low, 10, 1, 2), (line_green_diag, 6, 1, 1), (line_olive_tail, 12, 4, 1),
    (line_mint_right, 7, 6, 1), (line_red_dots, 9, 12, 2), (line_darkred_thin, 9, 2, 1), (line_darkred_bold, 9, 1, 3), (line_darkred_dots, 9, 4, 1), (line_darkred_b, 9, 1, 2),
    (line_darkred_c, 9, 1, 2), (line_darkred_d, 9, 1, 2), (line_darkred_e, 9, 1, 2), (line_darkred_f, 9, 2, 1), (line_red_center, 18, 1, 4), (line_purple_a, 11, 1, 1),
    (line_purple_b, 11, 1, 2), (line_purple_c, 11, 6, 2), (line_purple_d, 11, 1, 2), (line_purple_e, 11, 3, 1), (line_purple_f, 11, 2, 1), (line_purple_g, 10, 1, 1),
    (line_tail_a, 7, 2, 1), (line_tail_b, 7, 2, 1), (line_tail_c, 7, 4, 1), (line_tail_d, 8, 4, 1), (line_tail_e, 8, 4, 1), (line_right_blue, 5, 2, 1),
    (line_dotted_green, 7, 3, 1), (line_red_chain_a, 18, 7, 1), (line_red_chain_b, 18, 8, 1), (line_red_chain_c, 18, 9, 1), (line_red_chain_d, 18, 10, 1),
    (line_mint_chain, 16, 3, 1), (line_green_chain_a, 6, 10, 1), (line_green_chain_b, 6, 12, 1), (line_olive_chain, 12, 3, 1), (line_lime_arc, 15, 2, 1),
    (line_olive_a, 12, 1, 1), (line_magenta_b, 20, 1, 1), (line_olive_b, 12, 1, 1), (line_olive_c, 12, 1, 1), (line_magenta_c, 20, 1, 1),
    (line_olive_d, 12, 1, 1), (line_green_a, 6, 1, 1), (line_magenta_d, 20, 1, 1), (line_magenta_e, 20, 1, 1), (line_magenta_f, 20, 1, 1), (line_magenta_g, 20, 1, 1),
    (line_green_b, 7, 1, 1), (line_green_c, 7, 1, 1), (line_green_d, 7, 1, 1), (line_green_e, 7, 1, 1), (line_cyan_g, 8, 1, 1), (line_cyan_h, 8, 1, 1), (line_cyan_i, 8, 1, 1),
    (line_green_f, 7, 2, 1), (line_green_g, 7, 2, 1), (line_green_h, 7, 2, 1), (line_green_i, 7, 2, 1), (line_green_j, 7, 2, 1), (line_olive_short, 12, 1, 1),
    (line_edge_cyan, 8, 1, 1), (line_edge_green, 6, 1, 1), (line_edge_yellow, 24, 1, 1), (line_floor_yellow, 24, 1, 1), (line_floor_blue, 2, 1, 1),
    (line_floor_teal, 4, 1, 1), (line_floor_cyan, 8, 1, 1), (line_floor_green, 3, 1, 1),
]:
    stroke(curve, value, every, width)

for a, b, v in zip(speck_k1, speck_k2, speck_val):
    grid[int(b / cell):int(b / cell) + 2, int(a / cell):int(a / cell) + 2] = v

# ---- figure ---------------------------------------------------------------
scale = []
for i, c in enumerate(period_colors):
    scale += [[i / len(period_colors), c], [(i + 1) / len(period_colors), c]]

fig = go.Figure(go.Heatmap(
    x=centers, y=centers, z=grid, zmin=0.5, zmax=25.5, colorscale=scale, hoverinfo="skip",
    colorbar=dict(x=1.0033, xanchor="left", xpad=0, ypad=0, y=0.5, yanchor="middle", len=1, lenmode="fraction",
                  thickness=30, outlinewidth=0, borderwidth=0, tickmode="array", tickvals=periods,
                  ticktext=[str(p) for p in periods], ticks="outside", ticklen=15, tickcolor="rgba(0,0,0,0)", tickwidth=0,
                  tickfont=dict(family="Liberation Sans", size=18, color="black")),
))

region_labels = ["1", "2", "3", "4", "5", "6", "7", "10", "12", "14", "24"]
label_k1 = [0.06, 0.08, 8.52, 6.82, 7.86, 5.14, 7.0, 6.74, 5.68, 7.06, 4.48]
label_k2 = [7.83, 9.91, 0.33, 5.07, 5.47, 9.9, 8.44, 6.84, 9.53, 8.85, 9.9]
for t, a, b in zip(region_labels, label_k1, label_k2):
    fig.add_annotation(x=a, y=b, text=t, showarrow=False, font=dict(family="Liberation Sans", size=18, color="black"))

for t, px, py in [("<i>k</i><sub>1</sub>", 0.5015, -0.046), ("<i>k</i><sub>2</sub>", -0.0913, 0.499)]:
    fig.add_annotation(xref="paper", yref="paper", x=px, y=py, text=t, showarrow=False, yanchor="middle",
                       font=dict(family="Liberation Serif", size=56, color="black"))

axis = dict(range=[0, 10], tickmode="array", tickvals=axis_ticks, ticktext=[f"{v:.2f}" for v in axis_ticks], ticks="outside",
            ticklen=5, tickwidth=1, tickcolor="black", showgrid=False, zeroline=False, showline=False,
            tickfont=dict(family="Liberation Sans", size=22, color="black"))
fig.update_layout(width=1800, height=1730, margin=dict(l=200, r=100, t=40, b=190), paper_bgcolor="white", plot_bgcolor="white",
                  xaxis=axis, yaxis=axis, showlegend=False)
fig.write_html("out.html", config={"displayModeBar": False}, post_script="document.body.style.margin='0';")
